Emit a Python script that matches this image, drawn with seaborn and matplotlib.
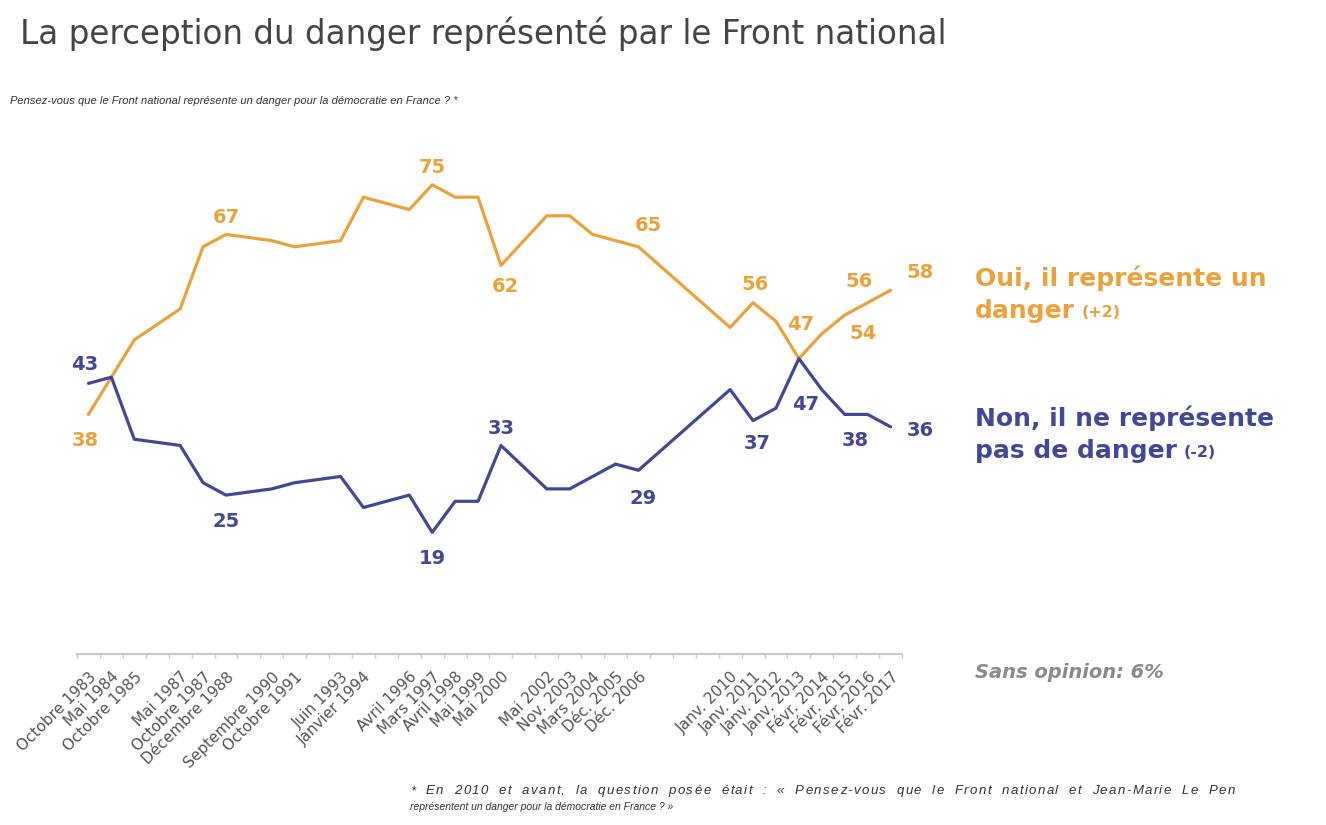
import matplotlib
matplotlib.use("Agg")
import matplotlib.pyplot as plt
import seaborn as sns
import pandas as pd
import numpy as np

# ---------------- data ----------------
# full axis categories (blank entries are empty slots on the axis)
axis_labels = [
    "Octobre 1983", "Mai 1984", "Octobre 1985", "", "Mai 1987", "Octobre 1987",
    "Décembre 1988", "", "Septembre 1990", "Octobre 1991", "", "Juin 1993",
    "Janvier 1994", "", "Avril 1996", "Mars 1997", "Avril 1998", "Mai 1999",
    "Mai 2000", "", "Mai 2002", "Nov. 2003", "Mars 2004", "Déc. 2005",
    "Déc. 2006", "", "", "", "Janv. 2010", "Janv. 2011", "Janv. 2012",
    "Janv. 2013", "Févr. 2014", "Févr. 2015", "Févr. 2016", "Févr. 2017",
]
survey_dates = [l for l in axis_labels if l]
oui = [38, 44, 50, 55, 65, 67, 66, 65, 66, 73, 71, 75, 73, 73, 62,
       70, 70, 67, 66, 65, 52, 56, 53, 47, 51, 54, 56, 58]
non = [43, 44, 34, 33, 27, 25, 26, 27, 28, 23, 25, 19, 24, 24, 33,
       26, 26, 28, 30, 29, 42, 37, 39, 47, 42, 38, 38, 36]
series_names = ["Oui", "Non"]

# labelled points: (date, offset in pixels)
oui_labels = [("Octobre 1983", (-3, -26)), ("Décembre 1988", (0, 17)),
              ("Mars 1997", (0, 17)), ("Mai 2000", (4, -21)),
              ("Déc. 2006", (10, 21)), ("Janv. 2011", (2, 18)),
              ("Janv. 2013", (2, 34)), ("Févr. 2016", (-9, 21)),
              ("Févr. 2015", (18, -18)), ("Févr. 2017", (30, 18))]
non_labels = [("Octobre 1983", (-4, 19)), ("Décembre 1988", (0, -26)),
              ("Mars 1997", (0, -26)), ("Mai 2000", (0, 17)),
              ("Déc. 2006", (5, -28)), ("Janv. 2011", (4, -23)),
              ("Janv. 2013", (7, -46)), ("Févr. 2015", (11, -26)),
              ("Févr. 2017", (30, -4))]

ORANGE = "#EBA23C"
BLUE = "#414997"

# ---------------- figure ----------------
sns.set_theme(style="white")
plt.rcParams["font.family"] = ["DejaVu Sans"]
W, H = 1326, 825
fig = plt.figure(figsize=(W / 100, H / 100), dpi=100)
fig.patch.set_facecolor("white")
ax = fig.add_axes([77 / W, 1 - 654 / H, (902 - 77) / W, (654 - 150) / H])

pos = [axis_labels.index(d) for d in survey_dates]
df = pd.DataFrame({
    "x": pos * 2,
    "value": oui + non,
    "serie": [series_names[0]] * len(oui) + [series_names[1]] * len(non),
})
sns.lineplot(data=df, x="x", y="value", hue="serie",
             palette={"Oui": ORANGE, "Non": BLUE}, linewidth=2.3,
             legend=False, ax=ax, sort=False)

ax.set_xlim(-0.5, len(axis_labels) - 0.5)
ax.set_ylim(-0.6, 80.6)
ax.set_xlabel("")
ax.set_ylabel("")
ax.set_yticks([])
for s in ["top", "right", "left"]:
    ax.spines[s].set_visible(False)
ax.spines["bottom"].set_color("#c9c9c9")
ax.spines["bottom"].set_linewidth(1.5)

ax.set_xticks(range(len(axis_labels)))
ax.set_xticklabels(axis_labels, rotation=45, ha="right",
                   rotation_mode="anchor", fontsize=11, color="#555555")
ax.tick_params(axis="x", which="major", length=0, pad=11)
ax.set_xticks(np.arange(-0.5, len(axis_labels), 1.0), minor=True)
ax.tick_params(axis="x", which="minor", length=3, width=1,
               color="#c9c9c9", direction="out", bottom=True)

def put_labels(values, labels, color):
    for d, (dx, dy) in labels:
        i = survey_dates.index(d)
        ax.annotate(str(values[i]), xy=(pos[i], values[i]),
                    xytext=(dx, dy), textcoords="offset pixels",
                    ha="center", va="center", fontsize=14,
                    fontweight="bold", color=color)

put_labels(oui, oui_labels, ORANGE)
put_labels(non, non_labels, BLUE)

def ftext(x, y, s, **kw):
    return fig.text(x / W, 1 - y / H, s, **kw)

ftext(20, 34, "La perception du danger représenté par le Front national",
      fontsize=23.5, color="#444444", va="center", ha="left")
ftext(10, 101, "Pensez-vous que le Front national représente un danger pour la démocratie en France ? *",
      fontsize=8, style="italic", color="#333333", va="center", ha="left",
      family=["Liberation Sans"])

# series labels on the right
LBL = 18
ftext(975, 278, "Oui, il représente un", fontsize=LBL, fontweight="bold",
      color=ORANGE, va="center", ha="left")
t1 = ftext(975, 311, "danger", fontsize=LBL, fontweight="bold",
           color=ORANGE, va="center", ha="left")
ax.annotate("(+2)", xy=(1, 0.45), xycoords=t1, xytext=(5, 0),
            textcoords="offset points", fontsize=11.5, fontweight="bold",
            color=ORANGE, va="center", ha="left", annotation_clip=False)
ftext(975, 418, "Non, il ne représente", fontsize=LBL, fontweight="bold",
      color=BLUE, va="center", ha="left")
t2 = ftext(975, 451, "pas de danger", fontsize=LBL, fontweight="bold",
           color=BLUE, va="center", ha="left")
ax.annotate("(-2)", xy=(1, 0.45), xycoords=t2, xytext=(5, 0),
            textcoords="offset points", fontsize=11.5, fontweight="bold",
            color=BLUE, va="center", ha="left", annotation_clip=False)

ftext(975, 673, "Sans opinion: 6%", fontsize=14, fontweight="bold",
      style="italic", color="#8a8a8a", va="center", ha="left")

# footnote: first line spread to fill x=410..1235
foot1 = "* En 2010 et avant, la question posée était : « Pensez-vous que le Front national et Jean-Marie Le Pen"
foot2 = "représentent un danger pour la démocratie en France ? »"
fkw = dict(style="italic", color="#333333", va="baseline",
           ha="left", family=["Liberation Sans"])
FS1 = 9.5
fig.canvas.draw()
renderer = fig.canvas.get_renderer()
probe_a = ftext(0, 0, "aa", fontsize=FS1, **fkw)
probe_b = ftext(0, 0, "a a", fontsize=FS1, **fkw)
space_w = (probe_b.get_window_extent(renderer).width
           - probe_a.get_window_extent(renderer).width)
probe_a.remove()
probe_b.remove()
words = foot1.split(" ")
arts = [ftext(410, 794, w, fontsize=FS1, **fkw) for w in words]
wws = [a.get_window_extent(renderer).width for a in arts]
nchar = sum(len(w) for w in words)
spare = 1235 - 410 - sum(wws) - space_w * (len(words) - 1)
# share spare space: half between words, half as letter spacing
per_gap = 0.6 * spare / (len(words) - 1)
per_char = 0.4 * spare / max(nchar - len(words), 1)
for a in arts:
    a.remove()
xcur = 410
for w in words:
    for c in w:
        t = ftext(xcur, 794, c, fontsize=FS1, **fkw)
        xcur += t.get_window_extent(renderer).width + per_char
    xcur += space_w + per_gap - per_char
ftext(410, 810, foot2, fontsize=7.5, **fkw)

fig.savefig("out.png", dpi=100, facecolor="white")
